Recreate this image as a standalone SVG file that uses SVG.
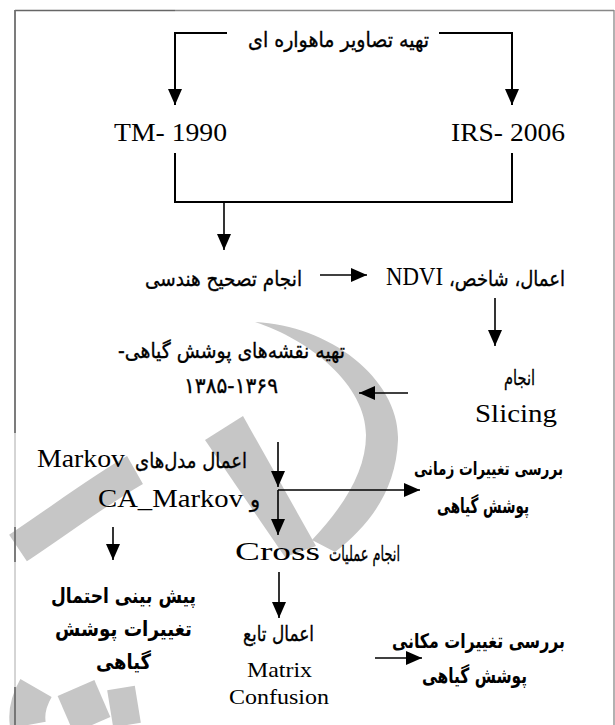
<svg xmlns="http://www.w3.org/2000/svg" width="615" height="725" viewBox="0 0 615 725">
<style>
.fa{font-family:"DejaVu Sans","Noto Sans",sans-serif;font-size:21px;fill:#000;stroke:#000;stroke-width:0.35}
.fb{font-family:"DejaVu Sans","Noto Sans",sans-serif;font-size:21px;font-weight:bold;fill:#000}
.fc{font-family:"DejaVu Sans","Noto Sans",sans-serif;font-size:20px;font-weight:bold;fill:#000}
.fd{font-family:"DejaVu Sans","Noto Sans",sans-serif;font-size:18px;font-weight:bold;fill:#000}
.la{font-family:"Liberation Serif","Times New Roman",serif;font-size:25px;fill:#000}
.lm{font-family:"Liberation Serif","Times New Roman",serif;font-size:21px;fill:#000}
.br{fill:none;stroke:#000;stroke-width:2}
.ab{fill:none;stroke:#000;stroke-width:2;marker-end:url(#ah)}
.ar{fill:none;stroke:#000;stroke-width:1.6;marker-end:url(#ah)}
.wm{fill:none;stroke:#c6c6c6;stroke-linecap:butt}
</style>
<defs>
<marker id="ah" markerUnits="userSpaceOnUse" markerWidth="17" markerHeight="14" refX="16" refY="7" orient="auto"><path d="M0,0 L16,7 L0,14 z" fill="#000"/></marker>
</defs>
<rect width="615" height="725" fill="#fff"/>
<g id="watermark">
<path fill="#c6c6c6" d="M255,322 C330,325 400,380 398,440 C396,490 370,525 335,552 L312,540 C345,505 366,470 366,435 C366,385 310,340 255,322 Z"/>
<polygon fill="#c6c6c6" points="205,440 243,416 316,546 285,557"/>
<path class="wm" stroke-width="32" d="M135,470 C100,490 60,520 18,548"/>
<path class="wm" stroke-width="36" d="M36,688 C28,702 26,714 28,725"/>
<path class="wm" stroke-width="40" d="M76,688 L92,725"/>
<path class="wm" stroke-width="28" d="M121,688 L127,725"/>
</g>
<g id="frame" fill="none">
<line x1="15" y1="10.5" x2="175" y2="10.5" stroke="#666" stroke-width="1.6"/>
<line x1="175" y1="10.5" x2="614" y2="10.5" stroke="#888" stroke-width="1.3"/>
<line x1="15" y1="10" x2="15" y2="725" stroke="#aaa" stroke-width="1"/>
<line x1="15" y1="10" x2="15" y2="433" stroke="#666" stroke-width="1.6"/>
<line x1="15" y1="527" x2="15" y2="562" stroke="#666" stroke-width="1.6"/>
<line x1="15" y1="687" x2="15" y2="725" stroke="#666" stroke-width="1.6"/>
<line x1="614" y1="10" x2="614" y2="725" stroke="#888" stroke-width="1.3"/>
</g>
<g id="connectors">
<path class="ab" d="M227,33 H175 V105"/>
<path class="ab" d="M439,33 H512 V105"/>
<path class="br" d="M175,153 V202 H512 V153"/>
<path class="ar" d="M224,202 V250"/>
<path class="ar" d="M320,275 H367"/>
<path class="ar" d="M495,298 V346"/>
<path class="ar" d="M408,393 H359"/>
<path class="ar" d="M278,442 V487"/>
<path class="ar" d="M278,490 H420"/>
<path class="ar" d="M278,490 V535"/>
<path class="ar" d="M113,527 V560"/>
<path class="ar" d="M279,572 V618"/>
<path class="ar" d="M375,658 H422"/>
</g>
<g id="n1"><text class="fa" x="248" y="47" textLength="181" lengthAdjust="spacingAndGlyphs">تهیه تصاویر ماهواره ای</text></g>
<g id="n2"><text class="la" x="114" y="141" textLength="113" lengthAdjust="spacingAndGlyphs">TM- 1990</text></g>
<g id="n3"><text class="la" x="451" y="141" textLength="114" lengthAdjust="spacingAndGlyphs">IRS- 2006</text></g>
<g id="n4"><text class="fa" x="145" y="286" textLength="157" lengthAdjust="spacingAndGlyphs">انجام تصحیح هندسی</text></g>
<g id="n5"><text class="la" x="386" y="285" textLength="57" lengthAdjust="spacingAndGlyphs">NDVI</text><text class="fa" x="449" y="286" textLength="116" lengthAdjust="spacingAndGlyphs">اعمال، شاخص،&#x200F;</text></g>
<g id="n6"><text class="fa" x="118" y="358" textLength="227" lengthAdjust="spacingAndGlyphs">تهیه نقشه‌های پوشش گیاهی-&#x200F;</text><text class="fa" x="184" y="393" textLength="94" lengthAdjust="spacingAndGlyphs">۱۳۸۵-۱۳۶۹</text></g>
<g id="n7"><text class="fa" x="504" y="385" textLength="31" lengthAdjust="spacingAndGlyphs">انجام</text><text class="la" x="475" y="422" textLength="82" lengthAdjust="spacingAndGlyphs">Slicing</text></g>
<g id="n8"><text class="la" x="37" y="467" textLength="88" lengthAdjust="spacingAndGlyphs">Markov</text><text class="fa" x="135" y="468" textLength="112" lengthAdjust="spacingAndGlyphs">اعمال مدل‌های</text><text class="la" x="98" y="507" textLength="145" lengthAdjust="spacingAndGlyphs">CA_Markov</text><text class="fa" x="250" y="507">و</text></g>
<g id="n9"><text class="fd" x="414" y="475" textLength="149" lengthAdjust="spacingAndGlyphs">بررسی تغییرات زمانی</text><text class="fb" x="437" y="513" textLength="92" lengthAdjust="spacingAndGlyphs">پوشش گیاهی</text></g>
<g id="n10"><text class="la" x="235" y="560" textLength="85" lengthAdjust="spacingAndGlyphs">Cross</text><text class="fa" x="329" y="561" textLength="71" lengthAdjust="spacingAndGlyphs">انجام عملیات</text></g>
<g id="n11"><text class="fb" x="51" y="603" textLength="145" lengthAdjust="spacingAndGlyphs">پیش بینی احتمال</text><text class="fb" x="55" y="636" textLength="137" lengthAdjust="spacingAndGlyphs">تغییرات پوشش</text><text class="fb" x="96" y="669" textLength="55" lengthAdjust="spacingAndGlyphs">گیاهی</text></g>
<g id="n12"><text class="fa" x="243" y="641" textLength="71" lengthAdjust="spacingAndGlyphs">اعمال تابع</text><text class="lm" x="247" y="677" textLength="65" lengthAdjust="spacingAndGlyphs">Matrix</text><text class="lm" x="229" y="704" textLength="100" lengthAdjust="spacingAndGlyphs">Confusion</text></g>
<g id="n13"><text class="fc" x="392" y="648" textLength="173" lengthAdjust="spacingAndGlyphs">بررسی تغییرات مکانی</text><text class="fb" x="422" y="683" textLength="105" lengthAdjust="spacingAndGlyphs">پوشش گیاهی</text></g>
</svg>
